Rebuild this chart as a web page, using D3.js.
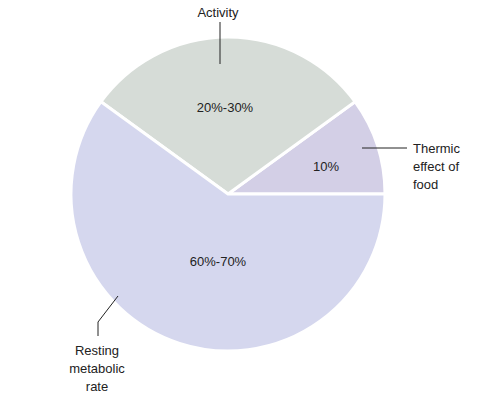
<!DOCTYPE html>
<html><head><meta charset="utf-8">
<script src="https://cdn.jsdelivr.net/npm/d3@7"></script>
<style>body{margin:0;background:#fff}svg{display:block}text{font-family:"Liberation Sans",Arial,sans-serif;font-size:13px;fill:#222}</style>
</head><body><svg id="c" width="484" height="414"></svg>
<script>
const categories = ["Thermic effect of food", "Activity", "Resting metabolic rate"];
const values = [10, 30, 60];
const valueLabels = ["10%", "20%-30%", "60%-70%"];
const colors = ["#d3cfe6", "#d6dcd7", "#d5d7ee"];

const svg = d3.select("#c");
const cx = 228, cy = 194, r = 157;
const g = svg.append("g").attr("transform", `translate(${cx},${cy})`);
const pie = d3.pie().sort(null).value(d => d)
  .startAngle(Math.PI/2).endAngle(Math.PI/2 - 2*Math.PI);
const arcs = pie(values);
const arc = d3.arc().innerRadius(0).outerRadius(r);
g.selectAll("path").data(arcs).join("path")
  .attr("d", arc).attr("fill", (d,i) => colors[i])
  .attr("stroke", "#fff").attr("stroke-width", 3).attr("stroke-linejoin","round");

const lblPos = [[326,166],[225,107],[218,261]];
svg.selectAll("text.v").data(valueLabels).join("text").attr("class","v")
  .attr("x",(d,i)=>lblPos[i][0]).attr("y",(d,i)=>lblPos[i][1])
  .attr("text-anchor","middle").attr("dy","0.35em").text(d=>d);

const line = (pts) => svg.append("path").attr("d", d3.line()(pts))
  .attr("fill","none").attr("stroke","#222").attr("stroke-width",1);
line([[220,22],[220,64]]);
line([[362,148],[407,148]]);
line([[118,296],[98,322],[98,336]]);

svg.append("text").attr("x",218).attr("y",12).attr("text-anchor","middle").attr("dy","0.35em").text("Activity");
const tLines = ["Thermic","effect of","food"];
tLines.forEach((t,i)=>svg.append("text").attr("x",413).attr("y",148+i*18).attr("dy","0.35em").text(t));
const rLines = ["Resting","metabolic","rate"];
rLines.forEach((t,i)=>svg.append("text").attr("x",97).attr("y",350+i*18).attr("text-anchor","middle").attr("dy","0.35em").text(t));
</script></body></html>
